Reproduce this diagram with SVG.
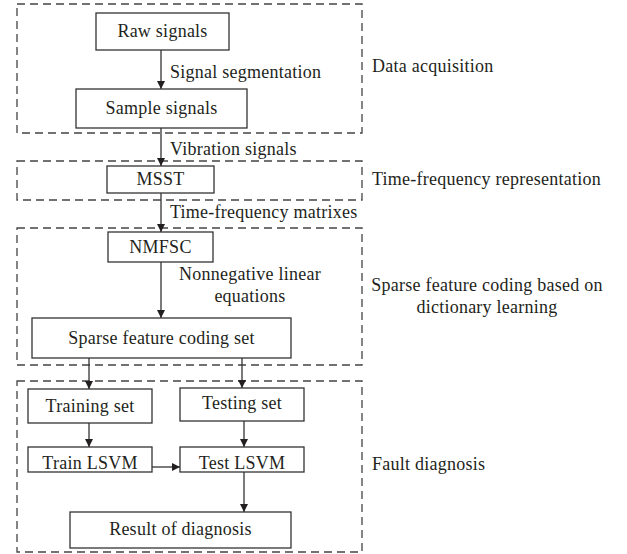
<svg xmlns="http://www.w3.org/2000/svg" width="627" height="554" viewBox="0 0 627 554">
  <style>
    text { font-family: "Liberation Serif", "DejaVu Serif", "Times New Roman", serif; font-size: 18px; letter-spacing: 0.25px; fill: #231f20; }
    .mid { text-anchor: middle; }
    .node rect { fill: #ffffff; stroke: #333333; stroke-width: 1.3; }
    .stage rect { fill: none; stroke: #444444; stroke-width: 1.3; stroke-dasharray: 8 5; }
    .conn line { stroke: #333333; stroke-width: 1.3; marker-end: url(#arrow); }
  </style>
  <defs>
    <marker id="arrow" viewBox="0 0 10 10" refX="10" refY="5" markerWidth="8" markerHeight="10" markerUnits="userSpaceOnUse" orient="auto">
      <path d="M0,0 L10,5 L0,10 z" fill="#231f20"/>
    </marker>
  </defs>

  <rect width="627" height="554" fill="#ffffff"/>

  <!-- stage frames -->
  <g id="stages" class="stage">
    <rect x="17" y="4" width="345" height="129"/>
    <rect x="17" y="161" width="345" height="39"/>
    <rect x="17" y="228" width="345" height="137"/>
    <rect x="17" y="381" width="345" height="171"/>
  </g>

  <!-- stage labels -->
  <g id="stage-labels">
    <text x="372" y="72">Data acquisition</text>
    <text x="372" y="185">Time-frequency representation</text>
    <text x="487" y="291" class="mid">Sparse feature coding based on</text>
    <text x="487" y="313" class="mid">dictionary learning</text>
    <text x="372" y="470">Fault diagnosis</text>
  </g>

  <!-- connectors -->
  <g id="connectors" class="conn">
    <line x1="161" y1="50" x2="161" y2="89"/>
    <line x1="161" y1="128" x2="161" y2="166"/>
    <line x1="161" y1="193" x2="161" y2="232"/>
    <line x1="161" y1="262" x2="161" y2="318"/>
    <line x1="89" y1="358" x2="89" y2="389"/>
    <line x1="242" y1="358" x2="242" y2="388"/>
    <line x1="89" y1="423" x2="89" y2="447"/>
    <line x1="244" y1="421" x2="244" y2="447"/>
    <line x1="152" y1="467" x2="180" y2="467"/>
    <line x1="244" y1="472" x2="244" y2="512"/>
  </g>

  <!-- connector labels -->
  <g id="connector-labels">
    <text x="170" y="78">Signal segmentation</text>
    <text x="170" y="155">Vibration signals</text>
    <text x="170" y="218">Time-frequency matrixes</text>
    <text x="250" y="280" class="mid">Nonnegative linear</text>
    <text x="250" y="302" class="mid">equations</text>
  </g>

  <!-- nodes -->
  <g id="raw-signals" class="node">
    <rect x="96" y="13" width="133" height="37"/>
    <text x="162.5" y="37" class="mid">Raw signals</text>
  </g>
  <g id="sample-signals" class="node">
    <rect x="76" y="89" width="171" height="39"/>
    <text x="161.5" y="114" class="mid">Sample signals</text>
  </g>
  <g id="msst" class="node">
    <rect x="107" y="166" width="107" height="27"/>
    <text x="160.5" y="185" class="mid">MSST</text>
  </g>
  <g id="nmfsc" class="node">
    <rect x="108" y="232" width="105" height="30"/>
    <text x="160.5" y="253" class="mid">NMFSC</text>
  </g>
  <g id="sparse-set" class="node">
    <rect x="32" y="318" width="259" height="40"/>
    <text x="161.5" y="344" class="mid">Sparse feature coding set</text>
  </g>
  <g id="training-set" class="node">
    <rect x="28" y="389" width="124" height="34"/>
    <text x="90" y="412" class="mid">Training set</text>
  </g>
  <g id="testing-set" class="node">
    <rect x="180" y="388" width="124" height="33"/>
    <text x="242" y="409" class="mid">Testing set</text>
  </g>
  <g id="train-lsvm" class="node">
    <rect x="28" y="447" width="124" height="25"/>
    <text x="90" y="469" class="mid">Train LSVM</text>
  </g>
  <g id="test-lsvm" class="node">
    <rect x="180" y="447" width="124" height="25"/>
    <text x="242" y="469" class="mid">Test LSVM</text>
  </g>
  <g id="result" class="node">
    <rect x="70" y="512" width="221" height="36"/>
    <text x="180.5" y="535" class="mid">Result of diagnosis</text>
  </g>
</svg>
